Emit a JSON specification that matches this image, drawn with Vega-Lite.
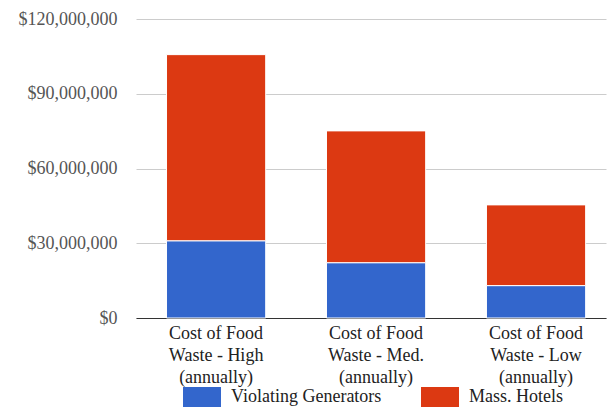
{
  "$schema": "https://vega.github.io/schema/vega-lite/v6.json",
  "width": 470,
  "height": 299,
  "autosize": {"type": "none"},
  "padding": {"left": 136, "top": 19, "right": 1, "bottom": 91},
  "background": "#ffffff",
  "config": {"view": {"stroke": null}},
  "data": {
    "values": [
      {"cost": "Cost of Food Waste - High (annually)", "group": "Violating Generators", "value": 31000000},
      {"cost": "Cost of Food Waste - High (annually)", "group": "Mass. Hotels", "value": 74700000},
      {"cost": "Cost of Food Waste - Med. (annually)", "group": "Violating Generators", "value": 22200000},
      {"cost": "Cost of Food Waste - Med. (annually)", "group": "Mass. Hotels", "value": 52900000},
      {"cost": "Cost of Food Waste - Low (annually)", "group": "Violating Generators", "value": 13000000},
      {"cost": "Cost of Food Waste - Low (annually)", "group": "Mass. Hotels", "value": 32400000}
    ]
  },
  "mark": {"type": "bar", "stroke": "#ffffff", "strokeWidth": 1},
  "encoding": {
    "x": {
      "field": "cost",
      "type": "nominal",
      "sort": null,
      "scale": {"paddingInner": 0.38, "paddingOuter": 0.159, "align": 0.6},
      "axis": {
        "title": null,
        "labelAngle": 0,
        "labelFont": "Liberation Serif, serif",
        "labelFontSize": 18,
        "labelColor": "#222222",
        "labelLineHeight": 22,
        "labelPadding": 6,
        "ticks": false,
        "domainColor": "#333333",
        "domainWidth": 1,
        "labelExpr": "[slice(datum.label,0,12), slice(datum.label,13,indexof(datum.label,' (')), slice(datum.label,indexof(datum.label,'('))]"
      }
    },
    "y": {
      "field": "value",
      "type": "quantitative",
      "stack": "zero",
      "scale": {"domain": [0, 120000000]},
      "axis": {
        "title": null,
        "values": [0, 30000000, 60000000, 90000000, 120000000],
        "format": "$,.0f",
        "labelFont": "Liberation Serif, serif",
        "labelFontSize": 18,
        "labelColor": "#555555",
        "labelPadding": 19,
        "ticks": false,
        "domain": false,
        "gridColor": "#cccccc",
        "gridWidth": 1
      }
    },
    "color": {
      "field": "group",
      "type": "nominal",
      "sort": ["Violating Generators", "Mass. Hotels"],
      "scale": {"domain": ["Violating Generators", "Mass. Hotels"], "range": ["#3366cc", "#dc3912"]},
      "legend": {
        "title": null,
        "orient": "none",
        "direction": "horizontal",
        "legendX": 47,
        "legendY": 359,
        "symbolType": "M-1,-0.526H1V0.526H-1Z",
        "symbolSize": 1444,
        "symbolStrokeWidth": 0,
        "symbolOpacity": 1,
        "labelFont": "Liberation Serif, serif",
        "labelFontSize": 18,
        "labelColor": "#222222",
        "labelOffset": 10,
        "columnPadding": 39
      }
    },
    "order": {"field": "group", "sort": "descending"}
  }
}
